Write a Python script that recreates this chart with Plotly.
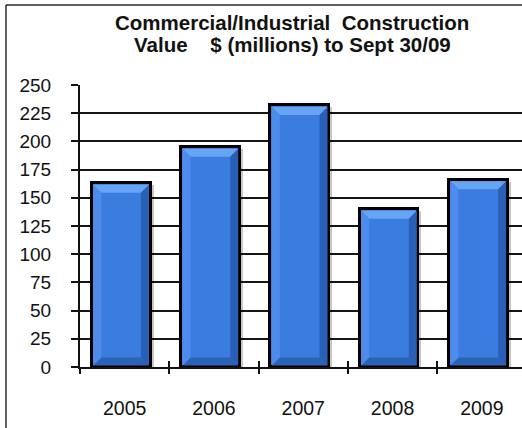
import plotly.graph_objects as go

# Data
years = ["2005", "2006", "2007", "2008", "2009"]
values = [163, 195, 232, 140, 166]
y_ticks = [0, 25, 50, 75, 100, 125, 150, 175, 200, 225, 250]

title_line1 = "Commercial/Industrial  Construction"
title_line2 = "Value    $ (millions) to Sept 30/09"

# Geometry helpers (pixels -> data units)
W, H = 522, 428
L, R, T, B = 80, 0, 85, 61
plot_w = W - L - R
plot_h = H - T - B
cat_px = 89.3
x_range = [-0.5, -0.5 + plot_w / cat_px]
y_range = [0, 250]
px_x = 1.0 / cat_px
px_y = (y_range[1] - y_range[0]) / plot_h

bar_w = 0.66
shift = 0.04          # bars sit slightly left of the category centre
bevel_px = 8
edge_px = 1.6

face = "#3a7ddf"
top_c = "#67a4f4"
left_c = "#4d8ceb"
right_c = "#2a5fb8"
bottom_c = "#2c62b8"

x_pos = list(range(len(years)))
boundaries = [i - 0.5 for i in range(len(years))]

fig = go.Figure()

# soft shadow behind each bar
fig.add_trace(go.Bar(
    x=[x + 3 * px_x for x in x_pos], y=values, width=bar_w,
    offset=-bar_w / 2 - shift,
    marker=dict(color="rgba(0,0,0,0.22)", line=dict(width=0)),
    base=[-2 * px_y] * len(values),
    hoverinfo="skip", showlegend=False,
))

fig.add_trace(go.Bar(
    x=x_pos, y=values, width=bar_w, offset=-bar_w / 2 - shift,
    marker=dict(color=face, line=dict(color="#000000", width=3)),
    showlegend=False,
))

# bevel facets computed from each bar's value
bx = bevel_px * px_x
by = bevel_px * px_y
ex = edge_px * px_x
ey = edge_px * px_y
for i, v in enumerate(values):
    c = x_pos[i] - shift
    x0, x1 = c - bar_w / 2 + ex, c + bar_w / 2 - ex
    y0, y1 = 0 + ey, v - ey
    facets = [
        ([x0, x1, x1 - bx, x0 + bx, x0], [y1, y1, y1 - by, y1 - by, y1], top_c),
        ([x1, x1, x1 - bx, x1 - bx, x1], [y1, y0, y0 + by, y1 - by, y1], right_c),
        ([x0, x1, x1 - bx, x0 + bx, x0], [y0, y0, y0 + by, y0 + by, y0], bottom_c),
        ([x0, x0, x0 + bx, x0 + bx, x0], [y0, y1, y1 - by, y0 + by, y0], left_c),
    ]
    for fx, fy, col in facets:
        fig.add_trace(go.Scatter(
            x=fx, y=fy, mode="lines", fill="toself", fillcolor=col,
            line=dict(width=0), hoverinfo="skip", showlegend=False,
        ))

# invisible anchors for the tick-mark axes
fig.add_trace(go.Scatter(x=[x_range[0]], y=[0], xaxis="x2", mode="markers",
                         marker=dict(opacity=0), hoverinfo="skip", showlegend=False))
fig.add_trace(go.Scatter(x=[x_range[0]], y=[0], xaxis="x3", mode="markers",
                         marker=dict(opacity=0), hoverinfo="skip", showlegend=False))

font = "Liberation Sans, Arial, sans-serif"

fig.update_layout(
    width=W, height=H,
    margin=dict(l=L, r=R, t=T, b=B),
    paper_bgcolor="white", plot_bgcolor="white",
    bargap=0,
    font=dict(family=font, size=19, color="#111111"),
    xaxis=dict(
        range=x_range, tickmode="array", tickvals=x_pos, ticktext=years,
        ticks="outside", ticklen=23, tickcolor="rgba(0,0,0,0)",
        showgrid=False, zeroline=False,
        showline=True, linecolor="#111111", linewidth=2,
        tickfont=dict(size=19.5),
    ),
    xaxis2=dict(
        overlaying="x", anchor="y", side="bottom", range=x_range,
        tickmode="array", tickvals=boundaries, ticks="outside", ticklen=6,
        tickwidth=2, tickcolor="#111111", showticklabels=False,
        showgrid=False, zeroline=False, showline=False,
    ),
    xaxis3=dict(
        overlaying="x", anchor="y", side="bottom", range=x_range,
        tickmode="array", tickvals=boundaries, ticks="inside", ticklen=6,
        tickwidth=2, tickcolor="#111111", showticklabels=False,
        showgrid=False, zeroline=False, showline=False,
    ),
    yaxis=dict(
        range=y_range, tickmode="array", tickvals=y_ticks,
        ticks="outside", ticklen=7, tickwidth=2, tickcolor="#111111",
        ticklabelstandoff=16,
        showgrid=True, gridcolor="#151515", gridwidth=2,
        zeroline=False, showline=True, linecolor="#111111", linewidth=2,
        tickfont=dict(size=19),
    ),
    annotations=[
        dict(text="<b>%s</b>" % title_line1, xref="paper", yref="paper",
             x=(292 - L) / plot_w, y=(H - B - 22) / plot_h, xanchor="center",
             yanchor="middle", showarrow=False, font=dict(size=20.5, family=font)),
        dict(text="<b>%s</b>" % title_line2, xref="paper", yref="paper",
             x=(292 - L) / plot_w, y=(H - B - 44) / plot_h, xanchor="center",
             yanchor="middle", showarrow=False, font=dict(size=20.5, family=font)),
    ],
    shapes=[
        # frame around the chart
        dict(type="line", xref="paper", yref="paper",
             x0=(6 - L) / plot_w, x1=(W + 10 - L) / plot_w,
             y0=(H - B - 5) / plot_h, y1=(H - B - 5) / plot_h,
             line=dict(color="#2a2a2a", width=1.5)),
        dict(type="line", xref="paper", yref="paper",
             x0=(6 - L) / plot_w, x1=(6 - L) / plot_w,
             y0=(H - B - 5) / plot_h, y1=(-B - 10) / plot_h,
             line=dict(color="#2a2a2a", width=1.5)),
    ],
)

fig.write_html("out.html")
